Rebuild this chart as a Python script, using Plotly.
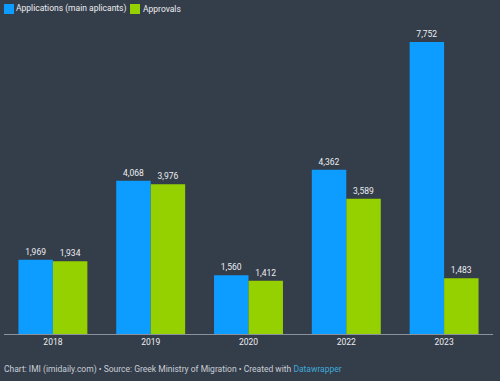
import plotly.graph_objects as go

years = ["2018", "2019", "2020", "2022", "2023"]
applications = [1969, 4068, 1560, 4362, 7752]
approvals = [1934, 3976, 1412, 3589, 1483]
series_names = ["Applications (main aplicants)", "Approvals"]

BG = "#343d4a"
BLUE = "#0d9cff"
GREEN = "#95d000"
TXT = "#eceef1"
FS = 8.5

W, H = 500, 381
ML, MR, MT, MB = 4, 7, 25, 47
PW, PH = W - ML - MR, H - MT - MB

def px_x(px):
    return (px - ML) / PW

def px_y(py):
    return (H - MB - py) / PH

fig = go.Figure()
for name, vals, col in [(series_names[0], applications, BLUE), (series_names[1], approvals, GREEN)]:
    fig.add_trace(go.Bar(
        x=years, y=vals, name=name,
        marker=dict(color=col, line=dict(width=0)),
        texttemplate="%{y:,}", textposition="outside",
        textfont=dict(color=TXT, size=FS), cliponaxis=False,
    ))

fig.update_layout(
    width=W, height=H,
    paper_bgcolor=BG, plot_bgcolor=BG,
    font=dict(family="Roboto, sans-serif", color=TXT, size=FS),
    margin=dict(l=ML, r=MR, t=MT, b=MB, autoexpand=False),
    barmode="group", bargap=0.295, bargroupgap=0,
    showlegend=False,
    xaxis=dict(showgrid=False, showline=True, linecolor="#8a929c", linewidth=1,
               ticks="", tickfont=dict(size=FS, color=TXT), fixedrange=True),
    yaxis=dict(visible=False, range=[0, 8203], showgrid=False, zeroline=False),
)

# legend (drawn manually to match the compact layout)
legend_items = [(series_names[0], BLUE, 4, 16), (series_names[1], GREEN, 130, 143)]
for name, col, sx, tx in legend_items:
    fig.add_shape(type="rect", xref="paper", yref="paper",
                  x0=px_x(sx), x1=px_x(sx + 10), y0=px_y(14), y1=px_y(4),
                  fillcolor=col, line=dict(width=0))
    fig.add_annotation(xref="paper", yref="paper", x=px_x(tx), y=px_y(9),
                       xanchor="left", yanchor="middle", showarrow=False,
                       text=name, font=dict(size=FS, color=TXT),
                       xshift=-2)

fig.add_annotation(
    xref="paper", yref="paper", x=px_x(4), y=px_y(369),
    xanchor="left", yanchor="middle", showarrow=False,
    text="Chart: IMI (imidaily.com) • Source: Greek Ministry of Migration • Created with <span style='color:#3fa9d9'>Datawrapper</span>",
    font=dict(size=FS, color="#c9ced6"), xshift=-2,
)

fig.write_html("out.html", config={"displayModeBar": False},
               post_script="document.body.style.margin='0';")
